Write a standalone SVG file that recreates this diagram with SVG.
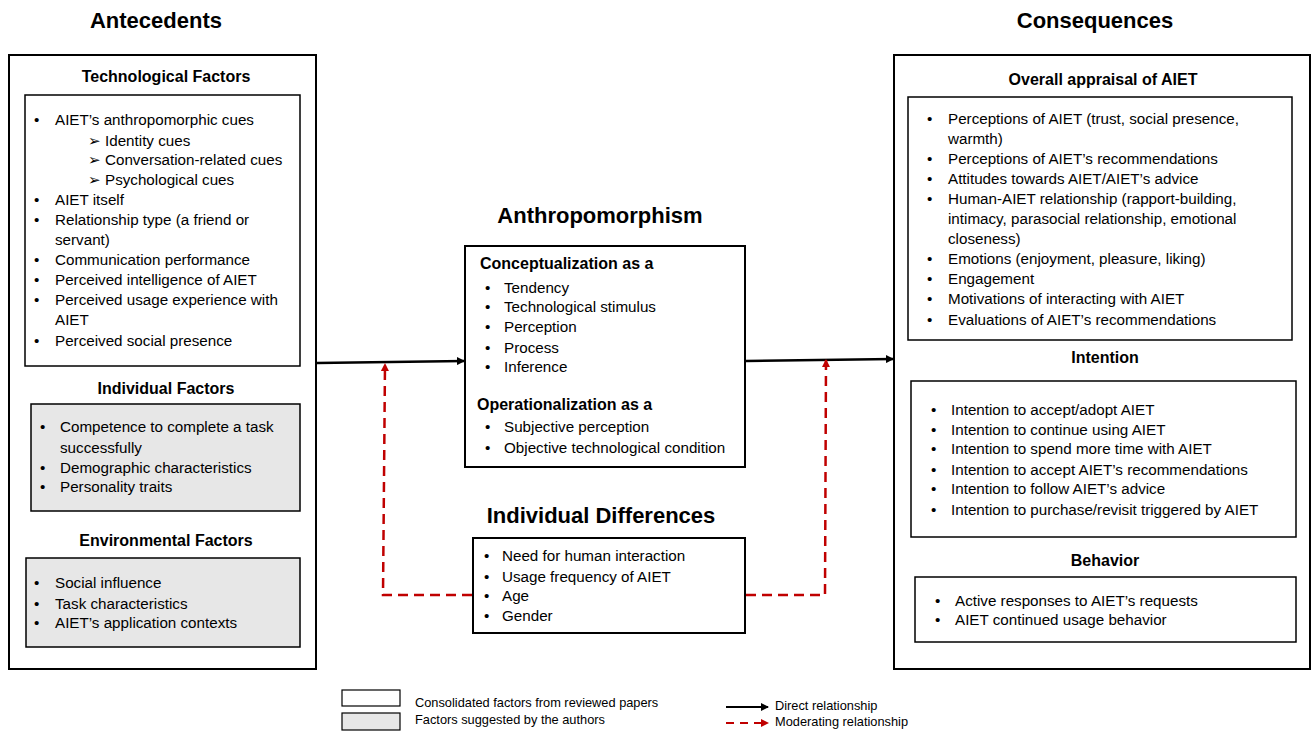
<svg xmlns="http://www.w3.org/2000/svg" width="1311" height="731" viewBox="0 0 1311 731">
<style>
text{font-family:"Liberation Sans",Arial,sans-serif;fill:#000}
.t{font-size:15.2px}
.h1{font-size:22px;font-weight:bold;text-anchor:middle}
.h2{font-size:16px;font-weight:bold;text-anchor:middle}
.h3{font-size:16px;font-weight:bold}
.lg{font-size:12.8px}
.box{fill:#fff;stroke:#000;stroke-width:2}
.gbox{fill:#e7e7e7;stroke:#000;stroke-width:1.5}
.ibox{fill:#fff;stroke:#000;stroke-width:1.5}
.dir{stroke:#000;stroke-width:2.5;fill:none}
.mod{stroke:#c00000;stroke-width:2.5;fill:none;stroke-dasharray:10,6}
</style>
<defs>
<marker id="ab" markerWidth="8" markerHeight="8" refX="7" refY="4" orient="auto" markerUnits="userSpaceOnUse"><path d="M0,0 L8,4 L0,8 z" fill="#000"/></marker>
<marker id="ar" markerWidth="8" markerHeight="8" refX="7" refY="4" orient="auto" markerUnits="userSpaceOnUse"><path d="M0,0 L8,4 L0,8 z" fill="#c00000"/></marker>
</defs>
<rect width="1311" height="731" fill="#fff"/>

<text class="h1" x="156" y="28">Antecedents</text>
<text class="h1" x="1095" y="28">Consequences</text>

<g id="antecedents">
<rect class="box" x="9" y="55" width="307" height="614"/>
<text class="h2" x="166" y="82">Technological Factors</text>
<rect class="ibox" x="25" y="95" width="275" height="271"/>
<g class="t">
<text x="34" y="125">•</text><text x="55" y="125">AIET’s anthropomorphic cues</text>
<text x="88" y="146">➢</text><text x="105" y="146">Identity cues</text>
<text x="88" y="165">➢</text><text x="105" y="165">Conversation-related cues</text>
<text x="88" y="185">➢</text><text x="105" y="185">Psychological cues</text>
<text x="34" y="205">•</text><text x="55" y="205">AIET itself</text>
<text x="34" y="225">•</text><text x="55" y="225">Relationship type (a friend or</text>
<text x="55" y="245">servant)</text>
<text x="34" y="265">•</text><text x="55" y="265">Communication performance</text>
<text x="34" y="285">•</text><text x="55" y="285">Perceived intelligence of AIET</text>
<text x="34" y="305">•</text><text x="55" y="305">Perceived usage experience with</text>
<text x="55" y="325">AIET</text>
<text x="34" y="346">•</text><text x="55" y="346">Perceived social presence</text>
</g>
<text class="h2" x="166" y="394">Individual Factors</text>
<rect class="gbox" x="31" y="404" width="269" height="107"/>
<g class="t">
<text x="40" y="432">•</text><text x="60" y="432">Competence to complete a task</text>
<text x="60" y="453">successfully</text>
<text x="40" y="473">•</text><text x="60" y="473">Demographic characteristics</text>
<text x="40" y="492">•</text><text x="60" y="492">Personality traits</text>
</g>
<text class="h2" x="166" y="546">Environmental Factors</text>
<rect class="gbox" x="26" y="558" width="274" height="89"/>
<g class="t">
<text x="34" y="588">•</text><text x="55" y="588">Social influence</text>
<text x="34" y="609">•</text><text x="55" y="609">Task characteristics</text>
<text x="34" y="628">•</text><text x="55" y="628">AIET’s application contexts</text>
</g>
</g>

<g id="anthropomorphism">
<text class="h1" x="600" y="223">Anthropomorphism</text>
<rect class="box" x="465" y="246" width="280" height="221"/>
<text class="h3" x="480" y="269">Conceptualization as a</text>
<g class="t">
<text x="485" y="293">•</text><text x="504" y="293">Tendency</text>
<text x="485" y="312">•</text><text x="504" y="312">Technological stimulus</text>
<text x="485" y="332">•</text><text x="504" y="332">Perception</text>
<text x="485" y="353">•</text><text x="504" y="353">Process</text>
<text x="485" y="372">•</text><text x="504" y="372">Inference</text>
</g>
<text class="h3" x="477" y="410">Operationalization as a</text>
<g class="t">
<text x="485" y="432">•</text><text x="504" y="432">Subjective perception</text>
<text x="485" y="453">•</text><text x="504" y="453">Objective technological condition</text>
</g>
</g>

<g id="individual-differences">
<text class="h1" x="601" y="523">Individual Differences</text>
<rect class="box" x="473" y="538" width="272" height="95"/>
<g class="t">
<text x="484" y="561">•</text><text x="502" y="561">Need for human interaction</text>
<text x="484" y="582">•</text><text x="502" y="582">Usage frequency of AIET</text>
<text x="484" y="601">•</text><text x="502" y="601">Age</text>
<text x="484" y="621">•</text><text x="502" y="621">Gender</text>
</g>
</g>

<g id="consequences">
<rect class="box" x="894" y="55" width="416" height="614"/>
<text class="h2" x="1103" y="85">Overall appraisal of AIET</text>
<rect class="ibox" x="908" y="97" width="384" height="243"/>
<g class="t">
<text x="927" y="124">•</text><text x="948" y="124">Perceptions of AIET (trust, social presence,</text>
<text x="948" y="144">warmth)</text>
<text x="927" y="164">•</text><text x="948" y="164">Perceptions of AIET’s recommendations</text>
<text x="927" y="184">•</text><text x="948" y="184">Attitudes towards AIET/AIET’s advice</text>
<text x="927" y="204">•</text><text x="948" y="204">Human-AIET relationship (rapport-building,</text>
<text x="948" y="224">intimacy, parasocial relationship, emotional</text>
<text x="948" y="244">closeness)</text>
<text x="927" y="264">•</text><text x="948" y="264">Emotions (enjoyment, pleasure, liking)</text>
<text x="927" y="284">•</text><text x="948" y="284">Engagement</text>
<text x="927" y="304">•</text><text x="948" y="304">Motivations of interacting with AIET</text>
<text x="927" y="325">•</text><text x="948" y="325">Evaluations of AIET’s recommendations</text>
</g>
<text class="h2" x="1105" y="363">Intention</text>
<rect class="ibox" x="911" y="381" width="385" height="156"/>
<g class="t">
<text x="931" y="415">•</text><text x="951" y="415">Intention to accept/adopt AIET</text>
<text x="931" y="435">•</text><text x="951" y="435">Intention to continue using AIET</text>
<text x="931" y="454">•</text><text x="951" y="454">Intention to spend more time with AIET</text>
<text x="931" y="475">•</text><text x="951" y="475">Intention to accept AIET’s recommendations</text>
<text x="931" y="494">•</text><text x="951" y="494">Intention to follow AIET’s advice</text>
<text x="931" y="515">•</text><text x="951" y="515">Intention to purchase/revisit triggered by AIET</text>
</g>
<text class="h2" x="1105" y="566">Behavior</text>
<rect class="ibox" x="915" y="577" width="381" height="65"/>
<g class="t">
<text x="935" y="606">•</text><text x="955" y="606">Active responses to AIET’s requests</text>
<text x="935" y="625">•</text><text x="955" y="625">AIET continued usage behavior</text>
</g>
</g>

<g id="connectors">
<line class="dir" x1="317" y1="363" x2="464" y2="361" marker-end="url(#ab)"/>
<line class="dir" x1="746" y1="361" x2="893" y2="359" marker-end="url(#ab)"/>
<polyline class="mod" points="472,595 383,595 385,364" marker-end="url(#ar)"/>
<polyline class="mod" points="746,595 825,595 826,360" marker-end="url(#ar)"/>
</g>

<g id="legend">
<rect x="342" y="690" width="58" height="16" fill="#fff" stroke="#000" stroke-width="1.2"/>
<rect x="342" y="713" width="58" height="17" fill="#e7e7e7" stroke="#000" stroke-width="1.2"/>
<text class="lg" x="415" y="707">Consolidated factors from reviewed papers</text>
<text class="lg" x="415" y="724">Factors suggested by the authors</text>
<line x1="726" y1="707" x2="768" y2="707" stroke="#000" stroke-width="2" marker-end="url(#ab)"/>
<line x1="726" y1="723" x2="768" y2="723" stroke="#c00000" stroke-width="2" stroke-dasharray="8,6" marker-end="url(#ar)"/>
<text class="lg" x="775" y="710">Direct relationship</text>
<text class="lg" x="775" y="726">Moderating relationship</text>
</g>
</svg>
